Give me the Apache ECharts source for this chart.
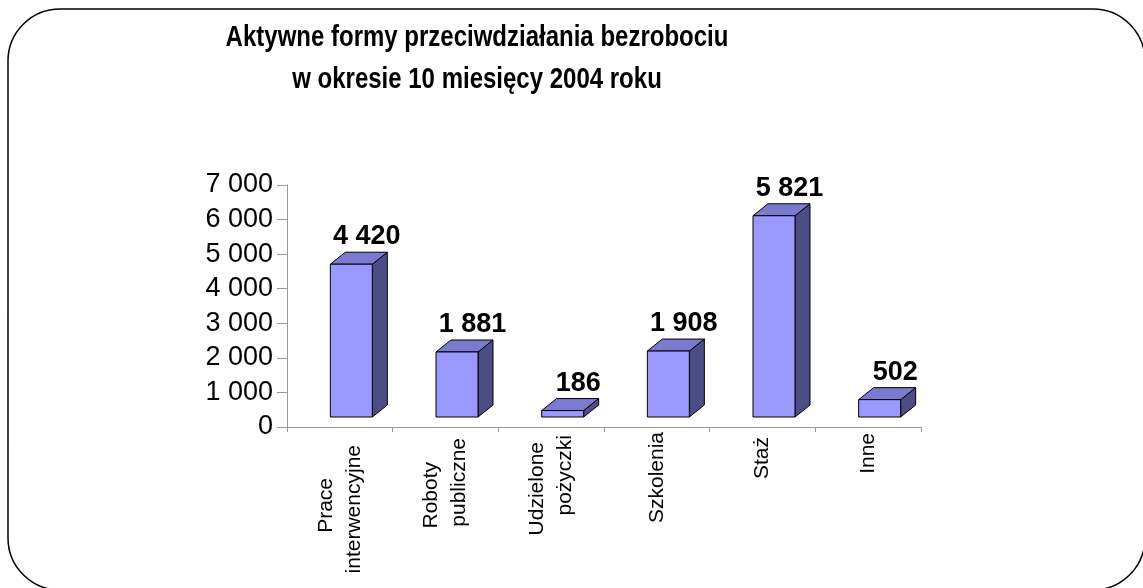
<!DOCTYPE html>
<html>
<head>
<meta charset="utf-8">
<script src="https://cdn.jsdelivr.net/npm/echarts@6/dist/echarts.min.js"></script>
<style>
  html, body { margin: 0; padding: 0; background: #fff; }
  #chart { width: 1143px; height: 588px; }
</style>
</head>
<body>
<div id="chart"></div>
<script>
var categories = [
  "Prace\ninterwencyjne",
  "Roboty\npubliczne",
  "Udzielone\npożyczki",
  "Szkolenia",
  "Staż",
  "Inne"
];
var values = [4420, 1881, 186, 1908, 5821, 502];
var yTicks = [0, 1000, 2000, 3000, 4000, 5000, 6000, 7000];
var titleText = "Aktywne formy przeciwdziałania bezrobociu\nw okresie 10 miesięcy 2004 roku";

var FONT = "'Liberation Sans', Arial, sans-serif";
// wymiary "3D" słupka
var BAR_W = 42;
var OFF_X = 11.5, OFF_Y = 10;   // przesunięcie przedniej ściany
var DEP_X = 15, DEP_Y = 12;     // głębokość
// odsunięcie linii etykiet osi X od osi (px), jak w oryginale
var LABEL_SHIFT = [[46, 13], [30, 6], [10, 3], [0], [5], [1]];

function fmt(v) {
  return String(v).replace(/\B(?=(\d{3})+(?!\d))/g, " ");
}

var rich = {};
LABEL_SHIFT.forEach(function (row) {
  row.forEach(function (s) {
    rich["s" + s] = {
      fontFamily: FONT,
      fontSize: 21,
      lineHeight: 28,
      color: "#000",
      padding: [0, s, 0, 0]
    };
  });
});

var chart = echarts.init(document.getElementById("chart"));

function renderBar(params, api) {
  var i = api.value(0);
  var v = api.value(1);
  var base = api.coord([i, 0]);
  var top = api.coord([i, v]);
  var xl = base[0] + OFF_X - BAR_W / 2;
  var xr = xl + BAR_W;
  var yb = base[1] - OFF_Y;
  var yt = top[1] - OFF_Y;
  var line = { stroke: "#000", lineWidth: 1 };
  return {
    type: "group",
    children: [
      {
        type: "polygon",
        shape: { points: [[xr, yt], [xr + DEP_X, yt - DEP_Y], [xr + DEP_X, yb - DEP_Y], [xr, yb]] },
        style: Object.assign({ fill: "#4D4D85" }, line)
      },
      {
        type: "polygon",
        shape: { points: [[xl, yt], [xr, yt], [xr + DEP_X, yt - DEP_Y], [xl + DEP_X, yt - DEP_Y]] },
        style: Object.assign({ fill: "#7A7AD0" }, line)
      },
      {
        type: "rect",
        shape: { x: xl, y: yt, width: BAR_W, height: yb - yt },
        style: Object.assign({ fill: "#9999FF" }, line)
      },
      {
        type: "text",
        style: {
          text: fmt(v),
          x: base[0] + 27,
          y: yt - DEP_Y - 2,
          align: "center",
          verticalAlign: "bottom",
          font: "bold 27px " + FONT,
          fill: "#000"
        }
      }
    ]
  };
}

var option = {
  animation: false,
  backgroundColor: "#fff",
  graphic: [
    {
      type: "rect",
      shape: { x: 8, y: 9, width: 1137, height: 581, r: 52 },
      style: { fill: "none", stroke: "#000", lineWidth: 1.5 },
      z: 0
    },
    {
      // tytuł: pogrubiony, lekko zwężony jak w oryginale
      type: "text",
      x: 477,
      y: 17,
      scaleX: 0.8,
      style: {
        text: titleText,
        align: "center",
        verticalAlign: "top",
        font: "bold 30px " + FONT,
        lineHeight: 42,
        fill: "#000"
      }
    }
  ],
  grid: { left: 287, right: 222, top: 185, bottom: 161 },
  xAxis: {
    type: "category",
    data: categories,
    axisLine: { lineStyle: { color: "#999" } },
    axisTick: { show: true, length: 5, lineStyle: { color: "#999" } },
    axisLabel: {
      rotate: 90,
      interval: 0,
      margin: 5,
      fontFamily: FONT,
      fontSize: 21,
      lineHeight: 28,
      color: "#000",
      rich: rich,
      formatter: function (value, idx) {
        var shifts = LABEL_SHIFT[idx];
        return value.split("\n").map(function (t, k) {
          return "{s" + shifts[k] + "|" + t + "}";
        }).join("\n");
      }
    }
  },
  yAxis: {
    type: "value",
    min: yTicks[0],
    max: yTicks[yTicks.length - 1],
    interval: 1000,
    axisLine: { show: true, lineStyle: { color: "#999" } },
    axisTick: { show: true, length: 10, lineStyle: { color: "#999" } },
    splitLine: { show: false },
    axisLabel: {
      margin: 14,
      fontFamily: FONT,
      fontSize: 27,
      color: "#000",
      formatter: function (v) { return fmt(v); }
    }
  },
  series: [
    {
      type: "custom",
      renderItem: renderBar,
      data: values.map(function (v, i) { return [i, v]; }),
      z: 5
    }
  ]
};

chart.setOption(option);
</script>
</body>
</html>
